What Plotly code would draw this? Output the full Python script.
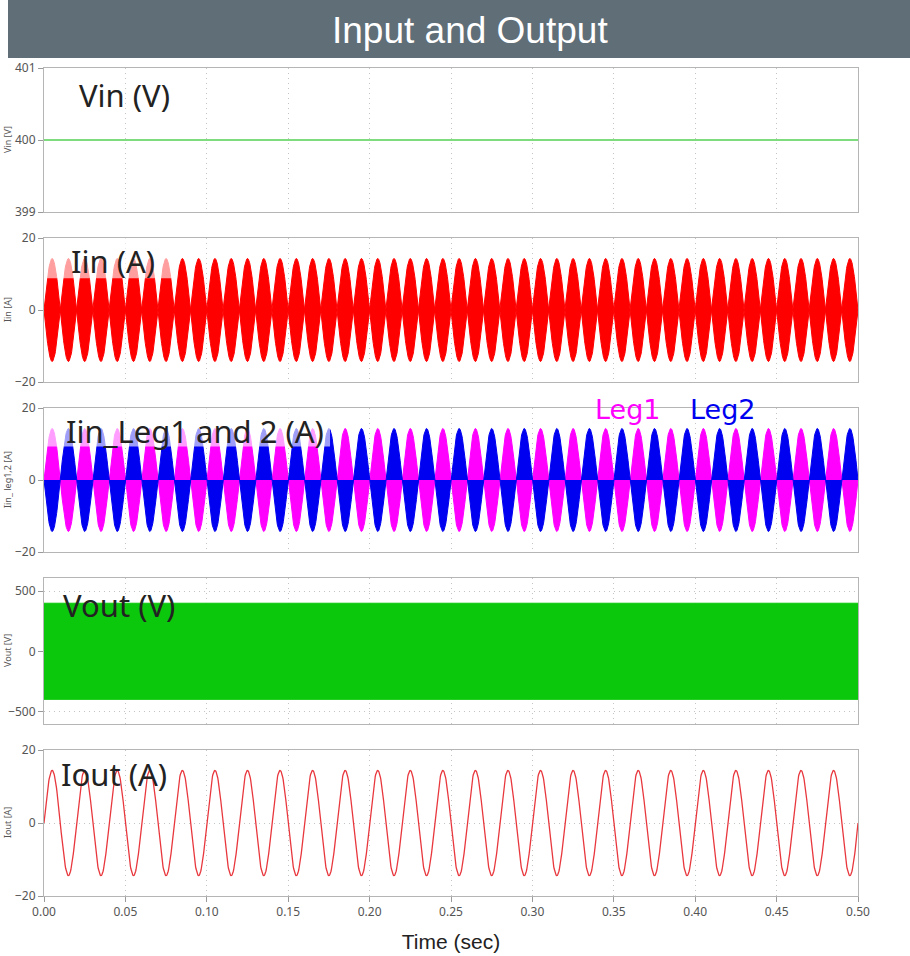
import numpy as np
import plotly.graph_objects as go

# ---- data ---------------------------------------------------------------
t_stop = 0.5                      # simulated time span (s)
line_freq = 50                    # output line frequency (Hz)

vin_level = 400                   # Vin (V), constant

# peak of each 10 ms current lobe (A)
iin_lobe_peaks = [14.3, 14.3, 14.3, 14.3, 14.3, 14.3, 14.3, 14.3, 14.3, 14.3,
                  14.3, 14.3, 14.3, 14.3, 14.3, 14.3, 14.3, 14.3, 14.3, 14.3,
                  14.3, 14.3, 14.3, 14.3, 14.3, 14.3, 14.3, 14.3, 14.3, 14.3,
                  14.3, 14.3, 14.3, 14.3, 14.3, 14.3, 14.3, 14.3, 14.3, 14.3,
                  14.3, 14.3, 14.3, 14.3, 14.3, 14.3, 14.3, 14.3, 14.3, 14.3]
leg_lobe_peaks = [14.3, 14.3, 14.3, 14.3, 14.3, 14.3, 14.3, 14.3, 14.3, 14.3,
                  14.3, 14.3, 14.3, 14.3, 14.3, 14.3, 14.3, 14.3, 14.3, 14.3,
                  14.3, 14.3, 14.3, 14.3, 14.3, 14.3, 14.3, 14.3, 14.3, 14.3,
                  14.3, 14.3, 14.3, 14.3, 14.3, 14.3, 14.3, 14.3, 14.3, 14.3,
                  14.3, 14.3, 14.3, 14.3, 14.3, 14.3, 14.3, 14.3, 14.3, 14.3]

vout_levels = [400, -400]         # switched output voltage levels (V)

# peak of each 20 ms output current cycle (A)
iout_cycle_peaks = [14.4, 14.4, 14.4, 14.4, 14.4, 14.4, 14.4, 14.4, 14.4, 14.4,
                    14.4, 14.4, 14.4, 14.4, 14.4, 14.4, 14.4, 14.4, 14.4, 14.4,
                    14.4, 14.4, 14.4, 14.4, 14.4]

x_ticks = [0.00, 0.05, 0.10, 0.15, 0.20, 0.25, 0.30, 0.35, 0.40, 0.45, 0.50]
x_tick_labels = ["0.00", "0.05", "0.10", "0.15", "0.20", "0.25",
                 "0.30", "0.35", "0.40", "0.45", "0.50"]

panel_labels = ["Vin (V)", "Iin (A)", "Iin_Leg1 and 2 (A)", "Vout (V)", "Iout (A)"]
axis_titles = ["Vin [V]", "Iin [A]", "Iin_ leg1,2 [A]", "Vout [V]", "Iout [A]"]

# ---- waveform construction ---------------------------------------------
half_period = 0.5 / line_freq
period = 1.0 / line_freq
N = 41


def lobes(peaks, alternate=False, sign=1):
    xs, ys = [], []
    for k, pk in enumerate(peaks):
        tt = np.linspace(k * half_period, (k + 1) * half_period, N)
        s = sign * (-1) ** k if alternate else 1
        xs.append(tt)
        ys.append(s * pk * np.sin(np.pi * (tt - k * half_period) / half_period))
    return np.concatenate(xs), np.concatenate(ys)


def cycles(peaks):
    xs, ys = [], []
    for k, pk in enumerate(peaks):
        tt = np.linspace(k * period, (k + 1) * period, 2 * N)
        xs.append(tt)
        ys.append(pk * np.sin(2 * np.pi * (tt - k * period) / period))
    return np.concatenate(xs), np.concatenate(ys)


# ---- geometry (pixels -> paper) ----------------------------------------
W, H = 910, 956
ML, MR, MT, MB = 44, 52, 68, 60
PW, PH = W - ML - MR, H - MT - MB


def px(x):
    return (x - ML) / PW


def py(y):
    return (H - MB - y) / PH


panel_px = [(68, 212), (238, 382), (408, 552), (578, 724), (750, 896)]
y_ranges = [[399, 401], [-20, 20], [-20, 20], [-605, 610], [-20, 20]]
y_ticks = [[399, 400, 401], [-20, 0, 20], [-20, 0, 20], [-500, 0, 500], [-20, 0, 20]]

fig = go.Figure()

# Vin
fig.add_trace(go.Scatter(x=[0, t_stop], y=[vin_level, vin_level], mode="lines",
                         line=dict(color="#7edc7e", width=2),
                         xaxis="x", yaxis="y"))

# Iin (filled envelope of the switched current)
tx, env = lobes(iin_lobe_peaks)
fig.add_trace(go.Scatter(x=np.concatenate([tx, tx[::-1]]),
                         y=np.concatenate([env, -env[::-1]]),
                         mode="lines", fill="toself", fillcolor="#ff0000",
                         line=dict(color="#ff0000", width=1),
                         xaxis="x2", yaxis="y2"))

# Leg currents
lx, l1 = lobes(leg_lobe_peaks, alternate=True, sign=1)
fig.add_trace(go.Scatter(x=lx, y=l1, mode="lines", fill="tozeroy",
                         fillcolor="#ff00ff", line=dict(color="#ff00ff", width=1),
                         xaxis="x3", yaxis="y3"))
lx, l2 = lobes(leg_lobe_peaks, alternate=True, sign=-1)
fig.add_trace(go.Scatter(x=lx, y=l2, mode="lines", fill="tozeroy",
                         fillcolor="#0000f0", line=dict(color="#0000f0", width=1),
                         xaxis="x3", yaxis="y3"))

# Vout (switched between the two levels)
fig.add_trace(go.Scatter(x=[0, t_stop], y=[vout_levels[0]] * 2, mode="lines",
                         line=dict(color="#0cc80c", width=1),
                         xaxis="x4", yaxis="y4"))
fig.add_trace(go.Scatter(x=[0, t_stop], y=[vout_levels[1]] * 2, mode="lines",
                         fill="tonexty", fillcolor="#0cc80c",
                         line=dict(color="#0cc80c", width=1),
                         xaxis="x4", yaxis="y4"))

# Iout
ox, oy = cycles(iout_cycle_peaks)
fig.add_trace(go.Scatter(x=ox, y=oy, mode="lines",
                         line=dict(color="#e8383e", width=1.3),
                         xaxis="x5", yaxis="y5"))

fig.update_traces(hoverinfo="skip", showlegend=False)

tick_font = dict(family="Noto Sans", size=12, color="#555555")
layout = dict(
    width=W, height=H,
    margin=dict(l=ML, r=MR, t=MT, b=MB, autoexpand=False),
    paper_bgcolor="white", plot_bgcolor="white",
    showlegend=False,
)

for i in range(5):
    n = "" if i == 0 else str(i + 1)
    top, bot = panel_px[i]
    layout["xaxis" + n] = dict(
        domain=[0, 1], anchor="y" + n, range=[0, t_stop],
        tickvals=x_ticks, ticktext=x_tick_labels,
        showticklabels=(i == 4), ticks="outside" if i == 4 else "",
        ticklen=5, tickcolor="#9a9a9a",
        showgrid=True, gridcolor="#c4c4c4", griddash="1px,4px", gridwidth=1,
        showline=True, linecolor="#b5b5b5", linewidth=1, mirror=True,
        zeroline=False, tickfont=tick_font, automargin=False,
        **({} if i == 0 else {"matches": "x"}),
    )
    layout["yaxis" + n] = dict(
        domain=[py(bot), py(top)], anchor="x" + n, range=y_ranges[i],
        tickvals=y_ticks[i], ticks="outside", ticklen=5, tickcolor="#9a9a9a",
        showgrid=True, gridcolor="#c4c4c4", griddash="1px,4px", gridwidth=1,
        showline=True, linecolor="#b5b5b5", linewidth=1, mirror=True,
        zeroline=False, tickfont=tick_font, automargin=False,
    )

layout["xaxis5"]["title"] = dict(text="Time (sec)",
                                 font=dict(family="Liberation Sans", size=21, color="#222222"),
                                 standoff=14)

fig.update_layout(**layout)

# title banner
fig.add_shape(type="rect", xref="paper", yref="paper",
              x0=px(8), x1=px(910), y0=py(58), y1=py(0),
              fillcolor="#5f6e77", line=dict(width=0), layer="below")
fig.add_annotation(text="Input and Output", xref="paper", yref="paper",
                   x=px(470), y=py(30), xanchor="center", yanchor="middle",
                   showarrow=False,
                   font=dict(family="Liberation Sans", size=37, color="white"))

# translucent label backings in the current panels
fig.add_shape(type="rect", xref="x2", yref="y2", x0=0, x1=0.0805, y0=8.8, y1=20,
              fillcolor="rgba(255,255,255,0.62)", line=dict(width=0), layer="above")
fig.add_shape(type="rect", xref="x3", yref="y3", x0=0, x1=0.1757, y0=9.3, y1=20,
              fillcolor="rgba(255,255,255,0.62)", line=dict(width=0), layer="above")

# panel labels
label_pos = [(77, 95), (69, 261), (64, 431), (61, 605), (59, 774)]
for txt, (lx_, ly_) in zip(panel_labels, label_pos):
    fig.add_annotation(text=txt, xref="paper", yref="paper", x=px(lx_), y=py(ly_),
                       xanchor="left", yanchor="middle", showarrow=False,
                       font=dict(family="Noto Sans", size=31, color="#222222"))

# leg legend text
fig.add_annotation(text="Leg1", xref="paper", yref="paper", x=px(593), y=py(410),
                   xanchor="left", yanchor="middle", showarrow=False,
                   font=dict(family="DejaVu Sans", size=27, color="#ff00ff"))
fig.add_annotation(text="Leg2", xref="paper", yref="paper", x=px(688), y=py(410),
                   xanchor="left", yanchor="middle", showarrow=False,
                   font=dict(family="DejaVu Sans", size=27, color="#0000f0"))

# small rotated axis titles at the left edge
for txt, (top, bot) in zip(axis_titles, panel_px):
    fig.add_annotation(text=txt, xref="paper", yref="paper", x=px(7),
                       y=py((top + bot) / 2), xanchor="center", yanchor="middle",
                       textangle=-90, showarrow=False,
                       font=dict(family="Noto Sans", size=9, color="#555555"))

fig.write_html("out.html")
